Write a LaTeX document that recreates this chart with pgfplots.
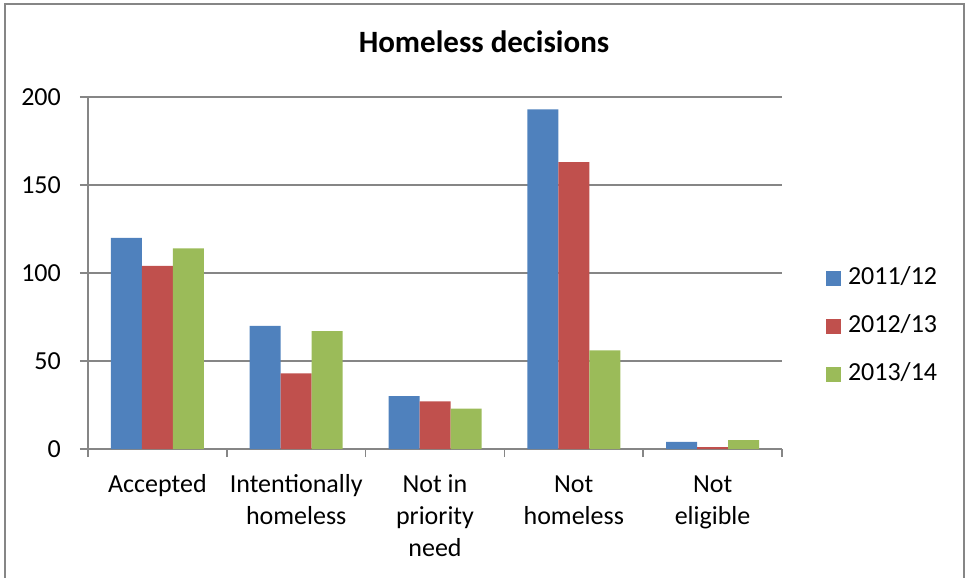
\documentclass[border=0pt]{standalone}
\usepackage{fontspec}
\setmainfont{Carlito}
\usepackage{pgfplots}
\pgfplotsset{compat=1.18}
\definecolor{s1}{HTML}{4F81BD}
\definecolor{s2}{HTML}{C0504D}
\definecolor{s3}{HTML}{9BBB59}
\definecolor{gridc}{HTML}{868686}
\begin{document}
\begin{tikzpicture}
% picture is 967 x 578 bp, axis box starts at (88,129) from bottom left
\useasboundingbox (-88bp,-129bp) rectangle (879bp,449bp);
\draw[gridc, line width=1.5bp] (-83bp,-140bp) -- (-83bp,445bp) -- (876bp,445bp) -- (876bp,-140bp);
\begin{axis}[
    name=ax, at={(0,0)}, anchor=south west,
    scale only axis, width=694bp, height=352bp,
    ybar=0pt, bar width=31bp,
    xmin=-0.5, xmax=4.5, ymin=0, ymax=200,
    xtick={0,...,4},
    xticklabels={\strut Accepted, \strut Intentionally\\homeless, \strut Not in\\priority\\need, \strut Not\\homeless, \strut Not\\eligible},
    minor xtick={-0.5,0.5,...,4.5},
    ytick={0,50,...,200},
    ymajorgrids,
    major grid style={gridc, line width=1.5bp},
    axis x line*=bottom, axis y line*=left,
    axis line style={gridc, line width=1.5bp},
    tick align=outside,
    major tick length=8bp, minor tick length=8bp,
    tick style={gridc, line width=1.5bp},
    major x tick style={draw=none},
    /pgf/number format/assume math mode=true,
    tick label style={font=\fontsize{26bp}{31bp}\selectfont, inner sep=0pt},
    xticklabel style={align=center, anchor=north, yshift=-13bp,
        font=\fontsize{26bp}{32bp}\selectfont},
    yticklabel style={anchor=east, xshift=-19bp},
    title={Homeless decisions},
    title style={at={(axis description cs:0.5706,1)}, anchor=center, yshift=49bp,
        font=\bfseries\fontsize{31bp}{37bp}\selectfont},
    legend image code/.code={\fill[#1,draw=none] (0bp,-7.5bp) rectangle (15bp,7.5bp);},
    legend cell align=left,
    legend style={draw=none, fill=none, inner sep=0pt, outer sep=0pt,
        at={(axis description cs:1.0634,0.349)}, anchor=west,
        row sep=24bp, column sep=7bp,
        font=\fontsize{26bp}{31bp}\selectfont,
        nodes={inner sep=0pt, text height=18bp, text depth=6bp}},
]
\addplot[fill=s1, draw=none] coordinates {(0,120) (1,70) (2,30) (3,193) (4,4)};
\addplot[fill=s2, draw=none] coordinates {(0,104) (1,43) (2,27) (3,163) (4,1)};
\addplot[fill=s3, draw=none] coordinates {(0,114) (1,67) (2,23) (3,56) (4,5)};
\legend{2011/12, 2012/13, 2013/14}
\end{axis}
\end{tikzpicture}
\end{document}
